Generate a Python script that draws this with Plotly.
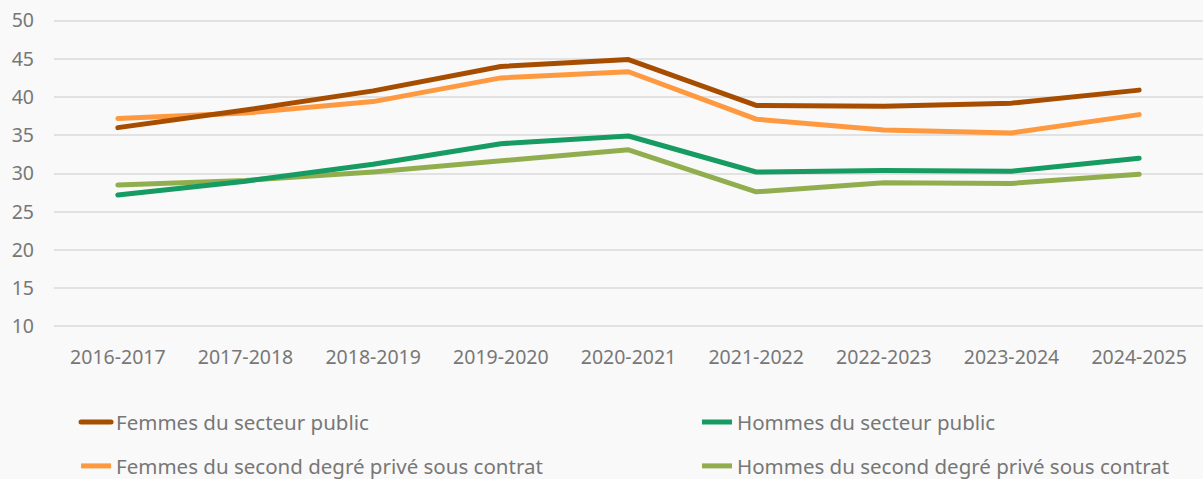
import plotly.graph_objects as go

categories = ["2016-2017", "2017-2018", "2018-2019", "2019-2020", "2020-2021",
              "2021-2022", "2022-2023", "2023-2024", "2024-2025"]
femmes_public = [36.0, 38.3, 40.8, 44.0, 44.9, 38.9, 38.8, 39.2, 40.9]
hommes_public = [27.2, 29.0, 31.2, 33.9, 34.9, 30.2, 30.4, 30.3, 32.0]
femmes_prive = [37.2, 37.9, 39.4, 42.5, 43.3, 37.1, 35.7, 35.3, 37.7]
hommes_prive = [28.5, 29.1, 30.2, 31.7, 33.1, 27.6, 28.8, 28.7, 29.9]
y_ticks = [10, 15, 20, 25, 30, 35, 40, 45, 50]

FONT = "Noto Sans"
GRAY = "#777777"

# (name, values, colour, legend id, legend x (paper), legend y (paper))
series = [
    ("Femmes du second degré privé sous contrat", femmes_prive, "#ff9940", "legend3", 0.0192, -0.4468),
    ("Hommes du second degré privé sous contrat", hommes_prive, "#91ae4f", "legend4", 0.5596, -0.4468),
    ("Femmes du secteur public", femmes_public, "#a64d00", "legend", 0.0192, -0.3048),
    ("Hommes du secteur public", hommes_public, "#169b62", "legend2", 0.5596, -0.3048),
]

fig = go.Figure()
legends = {}
for name, vals, color, leg, lx, ly in series:
    fig.add_trace(go.Scatter(
        x=categories, y=vals, name=name, mode="lines",
        line=dict(color=color, width=5),
        legend=leg, hoverinfo="x+y+name",
    ))
    legends[leg] = dict(
        orientation="h", xanchor="left", yanchor="middle",
        x=lx, y=ly,
        font=dict(family=FONT, size=20.5, color=GRAY),
        bgcolor="rgba(0,0,0,0)",
    )

fig.update_layout(
    width=1203, height=479,
    margin=dict(l=54, r=0, t=18.5, b=150.5, autoexpand=False),
    paper_bgcolor="#f9f9f9", plot_bgcolor="#f9f9f9",
    font=dict(family=FONT, size=19.5, color=GRAY),
    showlegend=True,
    **legends,
    xaxis=dict(
        type="category", range=[-0.5, 8.5], showgrid=False, zeroline=False,
        showline=False, ticks="", ticklabelstandoff=15,
        tickfont=dict(family=FONT, size=19.5, color=GRAY),
    ),
    yaxis=dict(
        range=[9.8, 50.2], tickvals=y_ticks, showgrid=True, gridcolor="#e2e2e2",
        gridwidth=2, zeroline=False, showline=False, ticks="",
        ticklabelstandoff=19,
        tickfont=dict(family=FONT, size=19.5, color=GRAY),
    ),
)

post = """
document.body.style.margin='0';
document.body.style.background='#f9f9f9';
document.querySelectorAll('.scatterlayer path.js-line, .legend path').forEach(function(p){
  p.style.strokeLinecap='round'; p.style.strokeLinejoin='round';
});
"""

fig.write_html("out.html", post_script=post, config={"displayModeBar": False})
